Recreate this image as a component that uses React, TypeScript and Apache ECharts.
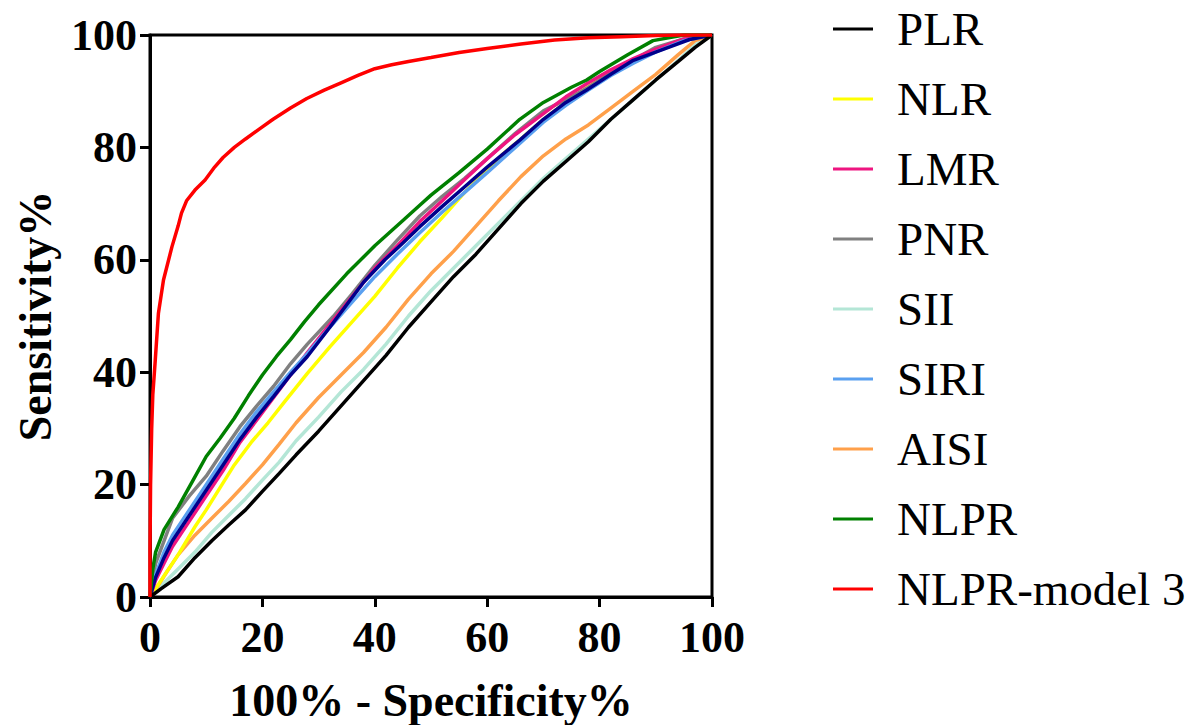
import React, { useEffect, useRef } from "react";
import * as echarts from "echarts";

const seriesNames = ["PLR", "NLR", "LMR", "PNR", "SII", "SIRI", "AISI", "NLPR", "NLPR-model 3"];

const plr: number[][] = [[0,0],[2,1.5],[5,3.6],[8,7],[11,10],[14,12.8],[17,15.5],[20,18.8],[23,22],[26,25.3],[30,29.5],[34,34],[38,38.5],[42,43],[46,48],[50,52.5],[54,57],[58,61],[62,65.5],[66,70],[70,74],[74,77.5],[78,81],[82,85],[86,88.5],[90,92],[94,95.3],[97,97.8],[100,100]];
const nlr: number[][] = [[0,0],[2,3],[5,7.5],[8,12.5],[10,15.5],[12.5,19.5],[15,23.5],[18,27.5],[21,31],[24,34.8],[28,39.8],[32,44.5],[36,49],[40,53.5],[44,58.5],[48,63.2],[52,67.5],[56,72],[60,76],[63,79],[66,81.5],[70,85],[74,88],[78,90.8],[82,93.3],[86,95.5],[90,97.3],[95,99.2],[100,100]];
const lmr: number[][] = [[0,0],[1,3],[2.5,6],[4,9],[7,13.5],[10,18],[13,22.5],[16,27.5],[19,31.5],[22,35.5],[25,39.5],[28,43.5],[32,48.5],[36,53.5],[40,58.5],[44,62.5],[48,66.8],[52,70.5],[56,74.3],[60,78],[65,82.3],[70,86],[74,89],[78,91.5],[82,93.8],[86,95.8],[90,97.5],[95,99.3],[100,100]];
const pnr: number[][] = [[0,0],[0.5,3],[1,6],[2.5,10],[4,14],[7,18],[10,21.5],[13,26],[16,30.3],[19,34],[22,37.5],[25,41.5],[28,45],[32.6,49.9],[36,54],[40,59],[44,63.5],[48,67.8],[52,71.3],[56,74.5],[60,78],[65,82.5],[70,86.5],[75,89],[77.7,90.5],[80,92],[85,95],[90,97.8],[95,99.3],[100,100]];
const sii: number[][] = [[0,0],[2,2],[5,5],[8,8],[11,11.5],[14,14.5],[17,17.5],[20,20.8],[23,24],[26,27.8],[30,32],[34,36.5],[38,40.5],[42,45],[46,50],[50,54.5],[54,58.5],[58,62.5],[62,66.5],[66,70.5],[70,74.5],[74,78],[78,81.5],[82,85],[86,88.5],[90,92],[94,95.5],[97,98.2],[100,100]];
const siri: number[][] = [[0,0],[1,4],[2.5,8],[4,11],[7,15.5],[10,20],[13,24.5],[16,29],[19,33],[22,36.5],[25,40],[28,43.3],[32,48],[36,52.5],[40,57],[44,61],[48,64.8],[52,68.5],[56,72],[60,75.5],[65,80],[70,84.5],[74,87.5],[78,90.2],[82,92.8],[86,95],[90,97],[95,99],[100,100]];
const aisi: number[][] = [[0,0],[1,1.3],[3,4.5],[5,7.5],[8,11],[11,14],[14,17],[17,20.2],[20,23.5],[23,27.2],[26,31],[30,35.5],[34,39.5],[38,43.5],[42,48],[46,53],[50,57.5],[54,61.5],[58,66],[62,70.5],[66,74.8],[70,78.5],[74,81.5],[78,84],[82,87],[86,90],[90,93],[94,96.5],[97,99],[100,100]];
const nlpr: number[][] = [[0,0],[0.5,5],[1,8],[2.5,12],[5,16],[7.5,20.5],[10,25],[12.5,28.3],[15,31.8],[17.5,35.8],[20,39.5],[22.5,42.8],[25,45.8],[27.5,49],[30,52],[35,57.5],[40,62.5],[45,67],[48,69.7],[50,71.5],[55,75.5],[60,79.7],[65.8,85],[70,88],[75,90.7],[77.7,92],[80,93.5],[85,96.5],[89.5,99],[95,100],[100,100]];
const nlprModel3: number[][] = [[0,0],[0,8],[0.1,20],[0.3,30],[0.5,36],[0.9,41.6],[1.5,50.5],[2.4,56.4],[3.9,62.3],[5,66],[5.6,68.3],[6.5,70.5],[8,72.4],[9.8,74.2],[11.5,76.5],[13,78.2],[15,80],[17,81.5],[19.5,83.3],[21.9,85],[25,87],[27.9,88.7],[31,90.2],[34,91.5],[37,92.8],[40,94],[43,94.7],[46,95.3],[50,96],[55,96.9],[60,97.6],[66,98.4],[72,99.1],[78,99.5],[84,99.7],[90,99.9],[94,100],[100,100]];
const unlabeled: number[][] = [[0,0],[1,3.5],[2.5,7],[4,10],[7,14.5],[10,19],[13,23.5],[16,28],[19,32],[22,35.7],[25,39.5],[28,42.8],[32,48],[35.6,52.8],[38,56],[41.8,60],[45,63],[48,65.9],[52,69.5],[56,73],[60,76.5],[65.8,81.3],[70,85],[74,88],[77.7,90.2],[82,93],[86,95.5],[92.5,97.9],[96,99.2],[100,100]];

const FONT = "Liberation Serif";

export default function App() {
  const ref = useRef<HTMLDivElement>(null);
  useEffect(() => {
    document.body.style.margin = "0";
    if (!ref.current) return;
    const chart = echarts.init(ref.current, undefined, { renderer: "svg" });
    const mk = (name: string, data: number[][], color: string) => ({
      type: "line",
      name,
      data,
      showSymbol: false,
      symbol: "none",
      color,
      lineStyle: { color, width: 3.5 },
      emphasis: { disabled: true },
    });
    chart.setOption({
      animation: false,
      backgroundColor: "#ffffff",
      textStyle: { fontFamily: FONT },
      grid: { left: 150, right: 489, top: 35, bottom: 128, show: true, borderColor: "#000", borderWidth: 3, outerBoundsMode: "none", containLabel: false },
      legend: {
        data: seriesNames,
        orient: "vertical",
        left: 828,
        top: -1,
        icon: "rect",
        itemWidth: 40,
        itemHeight: 3,
        itemGap: 20,
        textStyle: { fontFamily: FONT, fontSize: 47, color: "#000", lineHeight: 50, padding: [0, 0, 0, 19] },
      },
      xAxis: {
        type: "value",
        min: 0,
        max: 100,
        interval: 20,
        name: "100% - Specificity%",
        nameLocation: "middle",
        nameGap: 80,
        nameTextStyle: { fontFamily: FONT, fontSize: 46, fontWeight: "bold", color: "#000" },
        axisLine: { lineStyle: { color: "#000", width: 3 } },
        axisTick: { show: true, length: 10, lineStyle: { color: "#000", width: 3 } },
        axisLabel: { fontFamily: FONT, fontSize: 44, fontWeight: "bold", color: "#000", margin: 18 },
        splitLine: { show: false },
      },
      yAxis: {
        type: "value",
        min: 0,
        max: 100,
        interval: 20,
        name: "Sensitivity%",
        nameLocation: "middle",
        nameGap: 92,
        nameRotate: 90,
        nameTextStyle: { fontFamily: FONT, fontSize: 46, fontWeight: "bold", color: "#000" },
        axisLine: { lineStyle: { color: "#000", width: 3 } },
        axisTick: { show: true, length: 10, lineStyle: { color: "#000", width: 3 } },
        axisLabel: { fontFamily: FONT, fontSize: 44, fontWeight: "bold", color: "#000", margin: 13 },
        splitLine: { show: false },
      },
      series: [
        mk("SII", sii, "#b4e6d6"),
        mk("AISI", aisi, "#ffa04a"),
        mk("NLR", nlr, "#ffff00"),
        mk("PNR", pnr, "#808080"),
        mk("LMR", lmr, "#ee1580"),
        mk("SIRI", siri, "#5aa0f0"),
        mk("Unlabeled", unlabeled, "#00008b"),
        mk("NLPR", nlpr, "#008000"),
        mk("PLR", plr, "#000000"),
        mk("NLPR-model 3", nlprModel3, "#ff0000"),
      ],
    });
    return () => chart.dispose();
  }, []);
  return <div ref={ref} style={{ width: 1201, height: 725 }} />;
}
